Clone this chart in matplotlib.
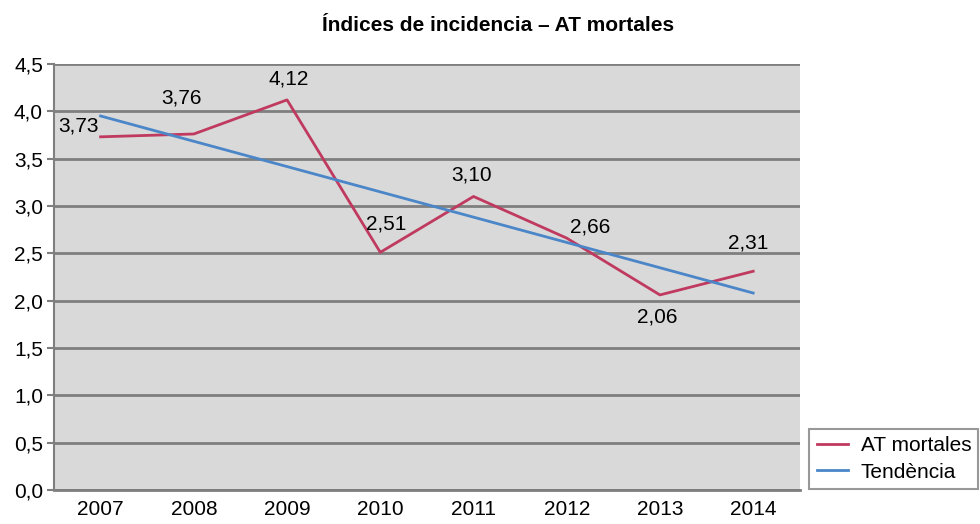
import matplotlib.pyplot as plt

# data
years = ["2007", "2008", "2009", "2010", "2011", "2012", "2013", "2014"]
at_mortales = [3.73, 3.76, 4.12, 2.51, 3.10, 2.66, 2.06, 2.31]
tendencia = [3.95, 2.08]   # straight trend line, first and last year
y_ticks = [0.0, 0.5, 1.0, 1.5, 2.0, 2.5, 3.0, 3.5, 4.0, 4.5]

# label offsets in pixels (layout only)
label_off = [(-22, 11), (-12, 36), (2, 21), (6, 28), (-2, 21), (23, 11), (-3, -22), (-5, 28)]

plt.rcParams['font.family'] = ['Liberation Sans', 'DejaVu Sans']
fs = 15

fig = plt.figure(figsize=(9.8, 5.24), dpi=100)
ax = fig.add_axes([0.0551, 0.065, 0.761, 0.813])
ax.set_facecolor("#d9d9d9")

x = list(range(len(years)))
ax.plot(x, at_mortales, color="#c0395f", lw=2, label="AT mortales", zorder=3)
ax.plot([x[0], x[-1]], tendencia, color="#4a86c8", lw=2, label="Tendència", zorder=3)

for xi, v, off in zip(x, at_mortales, label_off):
    ax.annotate(f"{v:.2f}".replace(".", ","), (xi, v), xytext=off,
                textcoords="offset pixels", ha="center", va="center", fontsize=fs)

ax.set_xlim(-0.5, len(years) - 0.5)
ax.set_ylim(0, 4.5)
ax.set_xticks(x)
ax.set_xticklabels(years, fontsize=fs)
ax.set_yticks(y_ticks)
ax.set_yticklabels([f"{t:.1f}".replace(".", ",") for t in y_ticks], fontsize=fs)
ax.tick_params(axis="x", length=0, pad=7)
ax.tick_params(axis="y", length=5, width=1.5, color="#7f7f7f", pad=3)
ax.grid(axis="y", color="#7f7f7f", lw=2)
ax.set_axisbelow(True)
for s in ["top", "right"]:
    ax.spines[s].set_visible(False)
ax.spines["left"].set_color("#7f7f7f")
ax.spines["left"].set_linewidth(1.5)
ax.spines["bottom"].set_color("#7f7f7f")
ax.spines["bottom"].set_linewidth(2)

fig.text(0.508, 0.952, "Índices de incidencia – AT mortales", ha="center", va="center",
         fontsize=fs, fontweight="bold")

leg = fig.legend(loc="center left", bbox_to_anchor=(0.826, 0.124), fontsize=fs,
                 frameon=True, fancybox=False, handlelength=1.5, handletextpad=0.6,
                 borderpad=0.35, labelspacing=0.35, borderaxespad=0)
leg.get_frame().set_edgecolor("#7f7f7f")
leg.get_frame().set_linewidth(1.5)

plt.savefig("out.png", dpi=100)
